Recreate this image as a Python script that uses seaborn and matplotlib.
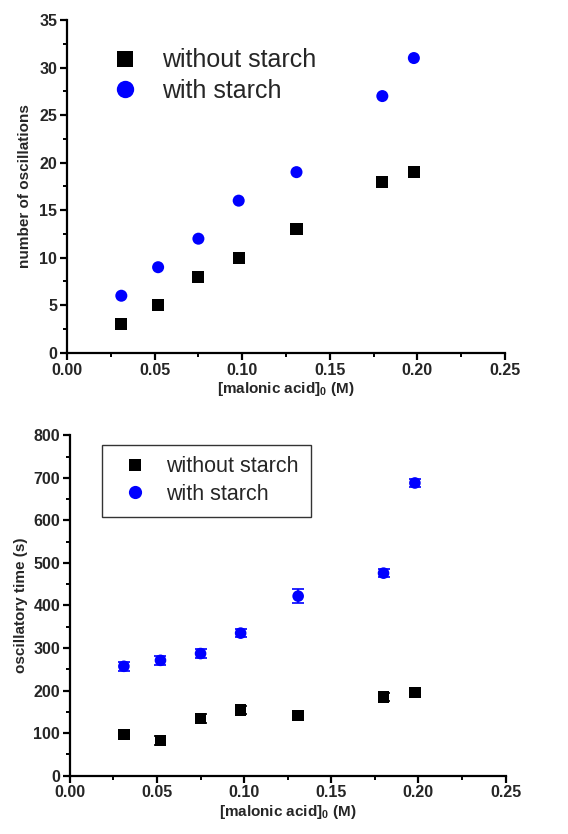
import numpy as np
import pandas as pd
import matplotlib
matplotlib.use("Agg")
import matplotlib.pyplot as plt
from matplotlib.lines import Line2D
from matplotlib.ticker import MultipleLocator, FormatStrFormatter
import seaborn as sns

# Initial malonic acid concentration (M)
conc = [0.031, 0.052, 0.075, 0.098, 0.131, 0.180, 0.198]

# Number of oscillations
osc_without = [3, 5, 8, 10, 13, 18, 19]
osc_with = [6, 9, 12, 16, 19, 27, 31]

# Oscillatory time (s) with standard deviations
time_without = [97, 83, 134, 154, 141, 185, 195]
time_without_err = [10, 10, 10, 10, 10, 10, 10]
time_with = [257, 271, 287, 335, 422, 476, 688]
time_with_err = [10, 10, 10, 10, 17, 10, 10]

series = ["without starch", "with starch"]
colors = {"without starch": "black", "with starch": "#0000ff"}
markers = {"without starch": "s", "with starch": "o"}

df_osc = pd.DataFrame({
    "conc": conc * 2,
    "value": osc_without + osc_with,
    "series": [series[0]] * len(conc) + [series[1]] * len(conc),
})
df_time = pd.DataFrame({
    "conc": conc * 2,
    "value": time_without + time_with,
    "err": time_without_err + time_with_err,
    "series": [series[0]] * len(conc) + [series[1]] * len(conc),
})

sns.set_style("ticks")
plt.rcParams["font.family"] = ["Liberation Sans", "DejaVu Sans"]
plt.rcParams["font.weight"] = "bold"
plt.rcParams["mathtext.fontset"] = "custom"
plt.rcParams["mathtext.rm"] = "Liberation Sans:bold"
plt.rcParams["mathtext.default"] = "rm"

fig = plt.figure(figsize=(5.68, 8.34), dpi=100)
ax1 = fig.add_axes([0.118, 0.577, 0.771, 0.399])
ax2 = fig.add_axes([0.123, 0.070, 0.767, 0.408])


def style_axes(ax, ymax, ymajor, yminor):
    ax.set_xlim(0, 0.25)
    ax.set_ylim(0, ymax)
    ax.xaxis.set_major_locator(MultipleLocator(0.05))
    ax.xaxis.set_minor_locator(MultipleLocator(0.025))
    ax.yaxis.set_major_locator(MultipleLocator(ymajor))
    ax.yaxis.set_minor_locator(MultipleLocator(yminor))
    ax.xaxis.set_major_formatter(FormatStrFormatter("%.2f"))
    for side in ("top", "right"):
        ax.spines[side].set_visible(False)
    for side in ("left", "bottom"):
        ax.spines[side].set_linewidth(1.6)
        ax.spines[side].set_color("black")
    ax.tick_params(which="major", direction="out", length=5, width=1.6,
                   labelsize=11.5, color="black", pad=2)
    ax.tick_params(which="minor", direction="out", length=3, width=1.4,
                   color="black")
    ax.set_xlabel("[malonic acid]$_0$ (M)", fontsize=11, fontweight="bold",
                  labelpad=2)


# Top panel: number of oscillations
sns.scatterplot(data=df_osc, x="conc", y="value", hue="series", style="series",
                palette=colors, markers=markers, hue_order=series,
                style_order=series, s=75, edgecolor="none", linewidth=0,
                legend=False, ax=ax1, zorder=3)
style_axes(ax1, 35, 5, 2.5)
ax1.set_ylabel("number of oscillations", fontsize=11, fontweight="bold",
               labelpad=5)

handles_top = [
    Line2D([], [], linestyle="none", marker=markers[s], color=colors[s],
           markersize=11 if s == series[0] else 12.5, markeredgewidth=0)
    for s in series
]
ax1.legend(handles_top, series, loc="upper left", bbox_to_anchor=(0.066, 0.945),
           frameon=False, prop={"size": 18, "weight": "normal"},
           handletextpad=0.75, labelspacing=0.25, borderaxespad=0,
           handlelength=1.5)

# Bottom panel: oscillatory time with error bars
for s in series:
    sub = df_time[df_time["series"] == s]
    ax2.errorbar(sub["conc"], sub["value"], yerr=sub["err"], fmt="none",
                 ecolor=colors[s], elinewidth=1.2, capsize=4.5, capthick=1.2,
                 zorder=2)
sns.scatterplot(data=df_time, x="conc", y="value", hue="series", style="series",
                palette=colors, markers=markers, hue_order=series,
                style_order=series, s=70, edgecolor="none", linewidth=0,
                legend=False, ax=ax2, zorder=3)
style_axes(ax2, 800, 100, 50)
ax2.set_ylabel("oscillatory time (s)", fontsize=11, fontweight="bold",
               labelpad=4)

handles_bot = [
    Line2D([], [], linestyle="none", marker=markers[s], color=colors[s],
           markersize=8 if s == series[0] else 9.5, markeredgewidth=0)
    for s in series
]
leg2 = ax2.legend(handles_bot, series, loc="upper left",
                  bbox_to_anchor=(0.073, 0.973), frameon=True,
                  prop={"size": 15.5, "weight": "normal"},
                  handletextpad=0.45, labelspacing=0.3, borderaxespad=0,
                  borderpad=0.55, handlelength=2.0, fancybox=False)
leg2.get_frame().set_edgecolor("black")
leg2.get_frame().set_linewidth(1.0)

fig.savefig("out.png", dpi=100, facecolor="white")
